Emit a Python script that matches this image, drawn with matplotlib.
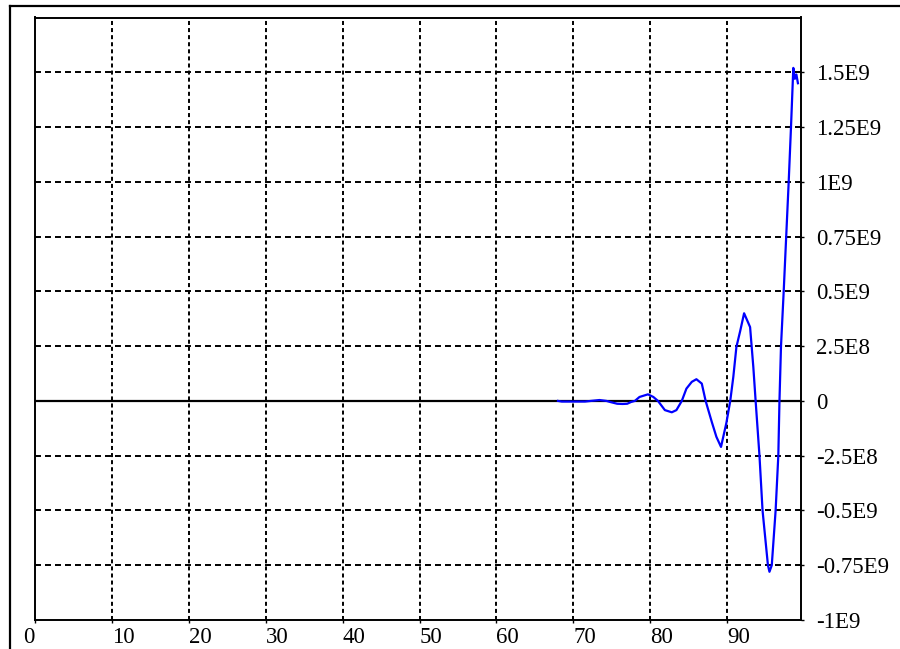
import matplotlib
matplotlib.use("Agg")
import matplotlib.pyplot as plt
from matplotlib.lines import Line2D

plt.rcParams["lines.scale_dashes"] = False

# Signal samples (x, value in units of 1E9)
x_vals = [68.0, 68.5, 70.0, 71.5, 72.3, 73.4, 74.3, 74.8, 75.7, 76.4, 77.0, 77.5,
          78.0, 78.6, 79.7, 80.4, 81.0, 81.9, 82.8, 83.4, 84.1, 84.7, 85.4, 86.0,
          86.7, 87.2, 88.0, 88.6, 89.2, 89.9, 90.4, 90.8, 91.2, 91.7, 92.2, 92.98,
          93.4, 93.7, 94.2, 94.6, 95.3, 95.5, 95.8, 96.3, 96.65, 96.8, 97.0, 97.35,
          98.0, 98.3, 98.6, 98.8, 99.0, 99.2]
y_vals = [0.0, -0.003, -0.003, -0.003, 0.0, 0.004, 0.0, -0.005, -0.013, -0.014, -0.013, -0.005,
          0.0, 0.018, 0.030, 0.018, 0.0, -0.042, -0.052, -0.042, 0.0, 0.056, 0.087, 0.099,
          0.079, 0.0, -0.096, -0.164, -0.21, -0.10, 0.0, 0.11, 0.246, 0.32, 0.40, 0.337,
          0.155, 0.0, -0.25, -0.50, -0.75, -0.78, -0.75, -0.50, -0.25, 0.0, 0.25, 0.50,
          1.00, 1.25, 1.52, 1.47, 1.49, 1.45]

x_ticks = [0, 10, 20, 30, 40, 50, 60, 70, 80, 90]
y_ticks = [-1.0, -0.75, -0.5, -0.25, 0.0, 0.25, 0.5, 0.75, 1.0, 1.25, 1.5]
y_tick_labels = ["-1E9", "-0.75E9", "-0.5E9", "-2.5E8", "0", "2.5E8",
                 "0.5E9", "0.75E9", "1E9", "1.25E9", "1.5E9"]

fig = plt.figure(figsize=(9, 6.49), dpi=100)
ax = fig.add_axes([35 / 900, 29 / 649, 766 / 900, 602.5 / 649])

ax.set_xlim(0, 99.6)
ax.set_ylim(-1.0, 1.75)

# dashed grid
for xv in x_ticks[1:]:
    ax.axvline(xv, color="black", lw=1.4, linestyle=(0, (2.9, 2.2)), zorder=1)
for yv in y_ticks[1:]:
    ax.axhline(yv, color="black", lw=1.4, linestyle=(0, (4.3, 2.9)), zorder=1)

# zero line
ax.axhline(0, color="black", lw=1.6, zorder=2)

ax.plot(x_vals, y_vals, color="#0000ff", lw=1.6, zorder=3)

ax.set_xticks(x_ticks)
ax.set_xticklabels([str(v) for v in x_ticks])
ax.set_yticks(y_ticks)
ax.set_yticklabels(y_tick_labels)
ax.yaxis.tick_right()

ax.tick_params(axis="both", direction="out", length=2.5, width=1.0,
               colors="black", labelsize=16.5)
ax.tick_params(axis="y", pad=8.5)
ax.tick_params(axis="x", pad=2.5)

for lab in ax.get_xticklabels():
    lab.set_fontfamily("Liberation Serif")
    lab.set_horizontalalignment("right" if lab.get_text() == "0" else "left")
for lab in ax.get_yticklabels():
    lab.set_fontfamily("Liberation Serif")

for sp in ax.spines.values():
    sp.set_color("black")
    sp.set_linewidth(1.4)

# outer frame (left and top edges)
fig.add_artist(Line2D([10 / 900, 10 / 900], [0, 1 - 6 / 649], color="black",
                      lw=1.6, transform=fig.transFigure))
fig.add_artist(Line2D([10 / 900, 1], [1 - 6 / 649, 1 - 6 / 649], color="black",
                      lw=1.6, transform=fig.transFigure))

fig.savefig("out.png", dpi=100)
